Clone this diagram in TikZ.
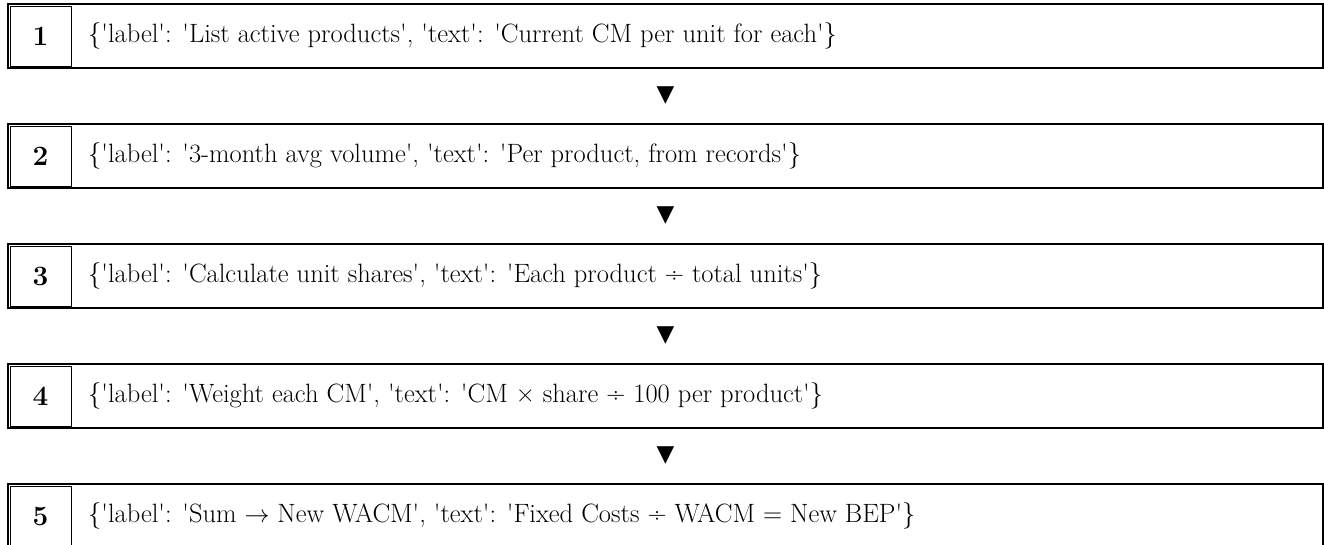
\documentclass[tikz,border=0pt]{standalone}
\usepackage{fontspec}
\newfontfamily\symfont{DejaVu Sans}
\usetikzlibrary{positioning, calc}
\newcommand{\sq}{\textquotesingle}
\tikzstyle{rowbox} = [draw, line width=1.6pt, minimum width=1315pt, minimum height=64pt, inner sep=0pt, outer sep=0pt]
\tikzstyle{numbox} = [draw, line width=1pt, minimum width=61pt, minimum height=60pt, inner sep=0pt, outer sep=0pt, font=\bfseries\fontsize{28}{32}\selectfont]
\tikzstyle{steptext} = [anchor=west, inner sep=0pt, font=\fontsize{26.5}{30}\selectfont]
\tikzstyle{downmark} = [inner sep=0pt, font=\symfont\fontsize{23}{23}\selectfont]

\begin{document}
\begin{tikzpicture}[node distance=56pt]
  \useasboundingbox (0,0) rectangle (1324pt,-544pt);
  % the five steps
  \node (row1) [rowbox] at (665.5pt,-36pt) {};
  \node (row2) [rowbox,below=of row1] {};
  \node (row3) [rowbox,below=of row2] {};
  \node (row4) [rowbox,below=of row3] {};
  \node (row5) [rowbox,below=of row4] {};
  \node (num1) [numbox,right=2pt of row1.west] {1};
  \node (num2) [numbox,right=2pt of row2.west] {2};
  \node (num3) [numbox,right=2pt of row3.west] {3};
  \node (num4) [numbox,right=2pt of row4.west] {4};
  \node (num5) [numbox,right=2pt of row5.west] {5};
  \node (txt1) [steptext,right=17pt of num1.east] {\{\sq label\sq: \sq List active products\sq, \sq text\sq: \sq Current CM per unit for each\sq\}};
  \node (txt2) [steptext,right=17pt of num2.east] {\{\sq label\sq: \sq 3-month avg volume\sq, \sq text\sq: \sq Per product, from records\sq\}};
  \node (txt3) [steptext,right=17pt of num3.east] {\{\sq label\sq: \sq Calculate unit shares\sq, \sq text\sq: \sq Each product ÷ total units\sq\}};
  \node (txt4) [steptext,right=17pt of num4.east] {\{\sq label\sq: \sq Weight each CM\sq, \sq text\sq: \sq CM × share ÷ 100 per product\sq\}};
  \node (txt5) [steptext,right=17pt of num5.east] {\{\sq label\sq: \sq Sum $\rightarrow$ New WACM\sq, \sq text\sq: \sq Fixed Costs ÷ WACM = New BEP\sq\}};
  % markers between the steps
  \node (arr1) [downmark] at ($(row1.south)!0.5!(row2.north)$) {▼};
  \node (arr2) [downmark] at ($(row2.south)!0.5!(row3.north)$) {▼};
  \node (arr3) [downmark] at ($(row3.south)!0.5!(row4.north)$) {▼};
  \node (arr4) [downmark] at ($(row4.south)!0.5!(row5.north)$) {▼};
\end{tikzpicture}
\end{document}
